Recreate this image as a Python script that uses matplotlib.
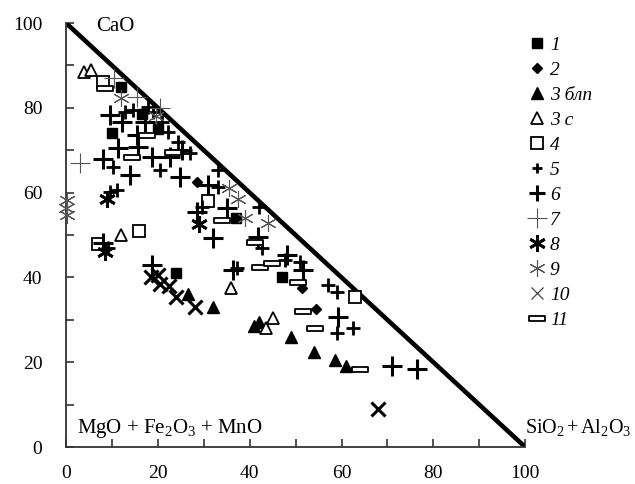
import matplotlib
matplotlib.use("Agg")
import matplotlib.pyplot as plt
from matplotlib.lines import Line2D
from matplotlib.path import Path

plt.rcParams["font.family"] = "serif"
plt.rcParams["font.serif"] = ["Liberation Serif", "DejaVu Serif"]
plt.rcParams["mathtext.fontset"] = "custom"
plt.rcParams["mathtext.rm"] = "Liberation Serif"
plt.rcParams["mathtext.it"] = "Liberation Serif:italic"

# --- data (CaO vs SiO2+Al2O3) ---
s1_x = [10, 12, 16.5, 20, 24, 37, 47]
s1_y = [74, 85, 78.5, 75, 41, 54, 40]

s2_x = [28.5, 51.5, 54.5]
s2_y = [62.5, 37.5, 32.5]

s3b_x = [26.5, 32, 41, 42, 49, 54, 58.5, 61]
s3b_y = [36, 33, 28.5, 29.5, 26, 22.5, 20.5, 19]

s3c_x = [4, 5.5, 12, 36, 43.5, 45]
s3c_y = [88.5, 89, 50, 37.5, 28, 30.5]

s4_x = [7, 8, 16, 31, 63]
s4_y = [48, 86, 51, 58, 35.5]

s5_x = [9.6, 11.1, 12.9, 14.6, 17.9, 19, 21, 22.2, 24.4, 27, 10.3, 20.5, 33.1,
        29.6, 37.2, 42.7, 47.7, 57, 59, 62.5, 59, 51, 9.2, 33, 42]
s5_y = [60.2, 60.6, 79, 79.5, 80.2, 79, 76.7, 74.3, 71.9, 69.3, 66, 65.3, 65.3,
        56.7, 42.2, 47, 44.1, 38.2, 36.6, 28, 27, 43.6, 47, 61.3, 56.5]

s6_x = [9.6, 12.2, 15.5, 11.4, 15.7, 18.7, 22.7, 25.3, 8.1, 13.9, 24.8, 31,
        28.5, 32, 35, 41.8, 8.1, 18.7, 36.4, 48.1, 51.6, 59.3, 71, 76.5, 17.2]
s6_y = [78.3, 76.7, 73.6, 70.5, 70.8, 68.4, 68.4, 70, 68, 64.2, 63.7, 61.8,
        55.5, 49.3, 56.3, 49.5, 48.1, 42.9, 41.7, 45.3, 41.7, 30.7, 19, 18.5, 76.7]

s7_x = [3, 10.5, 15.5, 20.5]
s7_y = [67, 87, 82.5, 80]

s8_x = [8.5, 9, 29]
s8_y = [46, 58.5, 52.5]

s9_x = [0.3, 0, 0.2, 12, 19.5, 35.5, 37.5, 39, 44]
s9_y = [58.3, 56.4, 54.7, 82.3, 78, 61, 58.5, 54, 52.8]

s10_x = [18.5, 20, 20.5, 22.5, 24, 28, 68]
s10_y = [40, 40.5, 38.5, 38, 35.5, 33, 9]

s11_x = [8.5, 14.3, 17.6, 23.4, 34, 41.2, 42.3, 44.8, 50.5, 51.7, 54.3, 64]
s11_y = [84.6, 68.4, 73.6, 69.7, 53.5, 48.4, 42.5, 43.3, 38.9, 32, 28, 18.4]

labels = ["1", "2", "3 блп", "3 с", "4", "5", "6", "7", "8", "9", "10", "11"]

# маркеры
bar = Path([(-1, -0.3), (1, -0.3), (1, 0.3), (-1, 0.3), (-1, -0.3)],
           [Path.MOVETO, Path.LINETO, Path.LINETO, Path.LINETO, Path.CLOSEPOLY])
aster = (6, 2, 0)

styles = [
    dict(marker="s", ms=7, mfc="black", mec="black"),
    dict(marker="D", ms=5, mfc="black", mec="black"),
    dict(marker="^", ms=8, mfc="black", mec="black"),
    dict(marker="^", ms=8, mfc="white", mec="black", mew=1.3),
    dict(marker="s", ms=8, mfc="white", mec="black", mew=1.3),
    dict(marker="+", ms=10, mec="black", mew=2.0),
    dict(marker="+", ms=14, mec="black", mew=2.2),
    dict(marker="+", ms=14, mec="#555555", mew=0.8),
    dict(marker=aster, ms=12, mec="black", mew=2.0),
    dict(marker=aster, ms=12, mec="#555555", mew=0.8),
    dict(marker="x", ms=10, mec="black", mew=2.2),
    dict(marker=bar, ms=12, mfc="white", mec="black", mew=1.3),
]
series = [(s1_x, s1_y), (s2_x, s2_y), (s3b_x, s3b_y), (s3c_x, s3c_y),
          (s4_x, s4_y), (s5_x, s5_y), (s6_x, s6_y), (s7_x, s7_y),
          (s8_x, s8_y), (s9_x, s9_y), (s10_x, s10_y), (s11_x, s11_y)]

fig = plt.figure(figsize=(6.35, 4.84), dpi=100)
ax = fig.add_axes([0.104, 0.0764, 0.723, 0.876])

# граница треугольника
ax.plot([0, 100], [100, 0], color="black", lw=3.3, solid_capstyle="butt", zorder=2)

for (xs, ys), st in zip(series, styles):
    ax.plot(xs, ys, ls="none", zorder=3, clip_on=False, **st)

ax.set_xlim(0, 100)
ax.set_ylim(0, 100)
ax.spines["top"].set_visible(False)
ax.spines["right"].set_visible(False)
for s in ("left", "bottom"):
    ax.spines[s].set_linewidth(1.3)
    ax.spines[s].set_color("#333333")

ax.set_xticks(range(0, 101, 20))
ax.set_yticks(range(0, 101, 20))
ax.set_xticks(range(10, 100, 20), minor=True)
ax.set_yticks(range(10, 100, 20), minor=True)
ax.tick_params(which="both", direction="in", length=6, width=1.2, color="#333333")
ax.tick_params(axis="x", which="major", pad=13, labelsize=14)
ax.tick_params(axis="y", which="major", pad=17, labelsize=14)

ax.text(6.5, 99.3, "CaO", fontsize=15, ha="left", va="center")
ax.text(2.3, 3.3, r"MgO + Fe$_2$O$_3$ + MnO", fontsize=15, ha="left", va="baseline")
ax.text(100.0, 3.3, r"SiO$_2\,$+$\,$Al$_2$O$_3$", fontsize=14.5, ha="left",
        va="baseline", clip_on=False)

# легенда (у 10 в легенде тонкий крестик)
handles = []
for i, st in enumerate(styles):
    st = dict(st)
    if i == 10:
        st.update(ms=9, mew=0.9, mec="#444444")
    if i in (5, 6):
        st["ms"] = st["ms"] - 3
    handles.append(Line2D([], [], ls="none", **st))
fig.legend(handles, labels, loc="upper left", bbox_to_anchor=(0.82, 0.945),
           frameon=False, prop=dict(family="Liberation Serif", style="italic", size=14),
           handlelength=0.7, handletextpad=0.3, labelspacing=0.38, borderpad=0)

fig.savefig("out.png", dpi=100)
